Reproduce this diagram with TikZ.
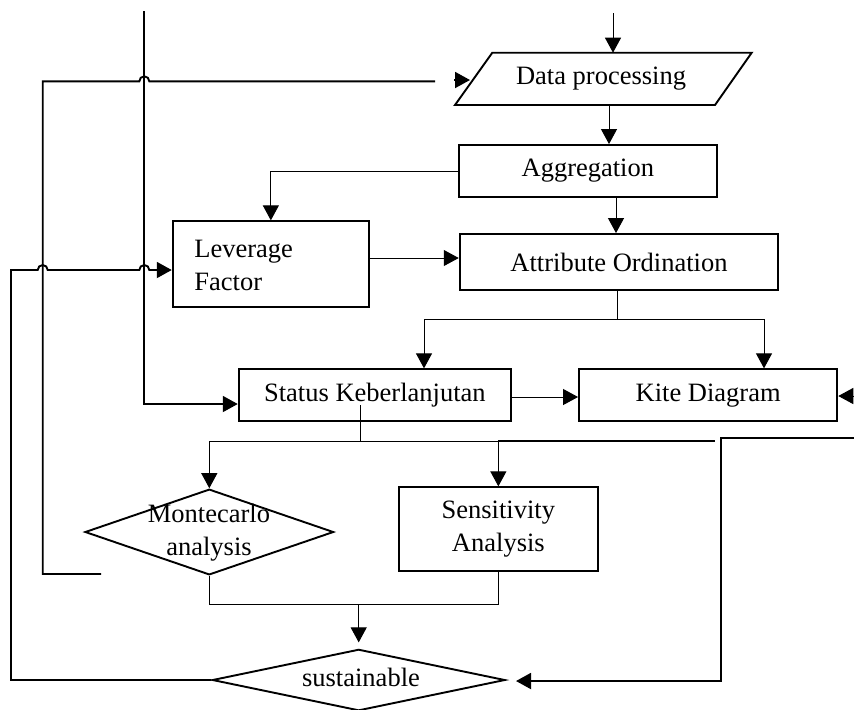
\documentclass[tikz,border=0pt]{standalone}
\usepackage{fontspec}
\setmainfont{Liberation Serif}
\usetikzlibrary{arrows.meta,shapes.geometric}
\begin{document}
\begin{tikzpicture}[x=0.5pt,y=-0.5pt,
  every node/.style={font=\fontsize{13.25}{16.5}\selectfont},
  box/.style={draw,line width=0.95pt,inner sep=0pt,align=center},
  dia/.style={draw,diamond,line width=0.95pt,inner sep=0pt},
  txt/.style={inner sep=0pt,align=center},
  thin/.style={line width=0.5pt},
  thk/.style={line width=0.95pt},
  arr/.style={-{Triangle[length=7.5pt,width=8pt]}}]
\useasboundingbox (0,0) rectangle (854,709);

% Data processing (parallelogram)
\draw[line width=0.95pt] (455,105) -- (715,105) -- (751.7,52.7) -- (492.3,52.7) -- cycle;
\node[txt] (dp) at (601,79) {Data processing};
\coordinate (dpN) at (613,52.7);
\coordinate (dpS) at (609,105);
\coordinate (dpW) at (470,80);

% boxes
\node[box,minimum width=129.15pt,minimum height=26pt] (agg) at (587.85,171) {Aggregation};
\node[box,minimum width=159.3pt,minimum height=28.15pt] (attr) at (619,262.15) {Attribute Ordination};
\node[box,minimum width=98.15pt,minimum height=42.7pt] (lev) at (270.85,264) {};
\node[txt,anchor=west,align=left] (levt) at (194,265) {Leverage\\Factor};
\node[box,minimum width=136.15pt,minimum height=25.85pt] (stat) at (374.85,395.15) {Status Keberlanjutan};
\node[box,minimum width=129.15pt,minimum height=25.85pt] (kite) at (708.15,395.15) {Kite Diagram};
\node[box,minimum width=99.35pt,minimum height=41.7pt] (sens) at (498.35,529) {Sensitivity\\Analysis};
\node[dia,minimum width=124.3pt,minimum height=42.85pt] (mc) at (209.3,532) {};
\node[txt] (mct) at (209,533) {Montecarlo\\analysis};
\node[dia,minimum width=146.35pt,minimum height=30.7pt] (sus) at (358.7,680) {};
\node[txt] (sust) at (361,677) {sustainable};

% helper coordinates
\coordinate (top1) at (613,13);
\coordinate (x616) at (616,0);
\coordinate (x618) at (617.5,0);
\coordinate (x424) at (424,0);
\coordinate (x764) at (764,0);
\coordinate (ysplit) at (0,319);
\coordinate (y258) at (0,258);
\coordinate (y397) at (0,397);
\coordinate (rin) at (854,396);
\coordinate (sd) at (360,405);
\coordinate (ysp2) at (0,441);
\coordinate (thkend) at (715,441);
\coordinate (ysp3) at (0,604);
\coordinate (R0) at (854,438);
\coordinate (R1) at (721,438);
\coordinate (R2) at (721,681);
\coordinate (L1) at (11,680);
\coordinate (yj) at (0,270);
\coordinate (O0) at (101,574);
\coordinate (O1) at (42.7,574);
\coordinate (O2) at (42.7,81.3);
\coordinate (O3) at (435,81.3);
\coordinate (A0) at (454,80);
\coordinate (V0) at (144.3,11);
\coordinate (V1) at (144.3,404);

% main flow
\draw[thin,arr] (top1) -- (dpN);
\draw[thin,arr] (dpS) -- (dpS |- agg.north);
\draw[thin,arr] (x616 |- agg.south) -- (x616 |- attr.north);
\draw[thin,arr] (agg.west) -| (lev.north);
\draw[thin,arr] (lev.east |- y258) -- (attr.west |- y258);
\draw[thin] (x618 |- attr.south) -- (x618 |- ysplit);
\draw[thin] (x424 |- ysplit) -- (x764 |- ysplit);
\draw[thin,arr] (x424 |- ysplit) -- (x424 |- stat.north);
\draw[thin,arr] (x764 |- ysplit) -- (x764 |- kite.north);
\draw[thin,arr] (stat.east |- y397) -- (kite.west |- y397);
\draw[thin,arr] (rin) -- (kite.east |- rin);

\draw[thin] (sd) -- (sd |- ysp2);
\draw[thin] (mc.north |- ysp2) -- (sens.north |- ysp2);
\draw[thk] (sens.north |- ysp2) -- (thkend);
\draw[thin,arr] (mc.north |- ysp2) -- (mc.north);
\draw[thin,arr] (sens.north |- ysp2) -- (sens.north);

\draw[thin] (mc.south) -- (mc.south |- ysp3) -- (sens.south |- ysp3) -- (sens.south);
\draw[thin,arr] (sus.north |- ysp3) -- ([yshift=3pt]sus.north);

% right loop into sustainable
\draw[thk,arr] (R0) -- (R1) -- (R2) -- ([xshift=5pt]sus.east |- R2);

% left loop from sustainable to leverage
\draw[thk,arr] (sus.west) -- (L1) -- (L1 |- yj) -- (37.7,270)
  arc[start angle=180,end angle=0,radius=2.5pt] -- (139.3,270)
  arc[start angle=180,end angle=0,radius=2.5pt] -- (lev.west |- yj);

% outer loop to data processing
\draw[thk] (O0) -- (O1) -- (O2) -- (139.3,81.3)
  arc[start angle=180,end angle=0,radius=2.5pt] -- (O3);
\draw[thk,arr] (A0) -- (dpW);

% vertical into status
\draw[thk,arr] (V0) -- (V1) -- (stat.west |- V1);
\end{tikzpicture}
\end{document}
